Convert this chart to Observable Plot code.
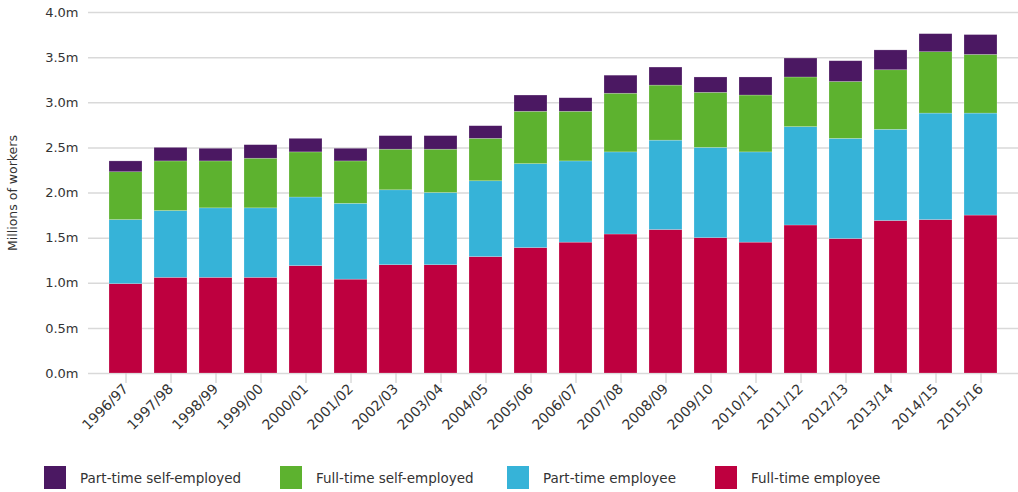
<!DOCTYPE html>
<html>
<head>
<meta charset="utf-8">
<script src="https://cdn.jsdelivr.net/npm/d3@7"></script>
<script src="https://cdn.jsdelivr.net/npm/@observablehq/plot@0.6"></script>
<style>
  body { margin: 0; background: #fff; font-family: "DejaVu Sans", sans-serif; }
  #chart svg { display: block; }
  .legend { position: relative; height: 42px; font-size: 13.5px; color: #333; }
  .legend .item { position: absolute; top: 16px; display: flex; align-items: center; }
  .legend .sw { width: 22px; height: 23px; margin-right: 14px; }
</style>
</head>
<body>
<div id="chart"></div>
<div class="legend" id="legend"></div>
<script>
const years = ["1996/97","1997/98","1998/99","1999/00","2000/01","2001/02","2002/03","2003/04","2004/05","2005/06","2006/07","2007/08","2008/09","2009/10","2010/11","2011/12","2012/13","2013/14","2014/15","2015/16"];
const fullTimeEmployee = [0.99,1.06,1.06,1.06,1.19,1.04,1.20,1.20,1.29,1.39,1.45,1.54,1.59,1.50,1.45,1.64,1.49,1.69,1.70,1.75];
const partTimeEmployee = [0.71,0.74,0.77,0.77,0.76,0.84,0.83,0.80,0.84,0.93,0.90,0.91,0.99,1.00,1.00,1.09,1.11,1.01,1.18,1.13];
const fullTimeSelf = [0.53,0.55,0.52,0.55,0.50,0.47,0.45,0.48,0.47,0.58,0.55,0.65,0.61,0.61,0.63,0.55,0.63,0.66,0.68,0.65];
const partTimeSelf = [0.12,0.15,0.14,0.15,0.15,0.14,0.15,0.15,0.14,0.18,0.15,0.20,0.20,0.17,0.20,0.21,0.23,0.22,0.20,0.22];
const seriesNames = ["Full-time employee","Part-time employee","Full-time self-employed","Part-time self-employed"];
const seriesColors = ["#be003f","#36b3d8","#5db22f","#4b1862"];
const yTicks = [0,0.5,1,1.5,2,2.5,3,3.5,4];

const seriesValues = [fullTimeEmployee, partTimeEmployee, fullTimeSelf, partTimeSelf];
const data = [];
seriesNames.forEach((s, i) => years.forEach((y, j) => data.push({year: y, series: s, value: seriesValues[i][j]})));

const chart = Plot.plot({
  width: 1018,
  height: 450,
  marginLeft: 88,
  marginRight: 0,
  marginTop: 12,
  marginBottom: 77,
  style: {fontFamily: '"DejaVu Sans", sans-serif', fontSize: "13px", color: "#333"},
  x: {domain: years, paddingInner: 0.27, paddingOuter: 0.42, label: null},
  y: {domain: [0, 4], ticks: yTicks, tickFormat: d => d.toFixed(1) + "m", label: null},
  color: {domain: seriesNames, range: seriesColors},
  marks: [
    Plot.ruleY(yTicks, {stroke: "#d9d9d9", strokeWidth: 1.5}),
    Plot.barY(data, {x: "year", y: "value", fill: "series", order: seriesNames, stroke: "#ffffff", strokeOpacity: 0.35, strokeWidth: 0.6}),
    Plot.axisY({ticks: yTicks, tickFormat: d => d.toFixed(1) + "m", tickSize: 0, tickPadding: 10, fontSize: 13, label: null, fill: "#333"}),
    Plot.axisX({tickRotate: -45, tickSize: 10, tickPadding: 3, fontSize: 14, label: null, stroke: "#c8c8c8", fill: "#333"}),
    Plot.text(["Millions of workers"], {frameAnchor: "left", textAnchor: "middle", dx: -76, rotate: -90, fontSize: 12.5, fill: "#333"})
  ]
});
document.getElementById("chart").appendChild(chart);

const legend = document.getElementById("legend");
const order = [3, 2, 1, 0];
const lefts = [44, 280, 507, 715];
order.forEach((i, k) => {
  const it = document.createElement("div");
  it.className = "item";
  it.style.left = lefts[k] + "px";
  it.innerHTML = `<span class="sw" style="background:${seriesColors[i]}"></span><span>${seriesNames[i]}</span>`;
  legend.appendChild(it);
});
</script>
</body>
</html>
